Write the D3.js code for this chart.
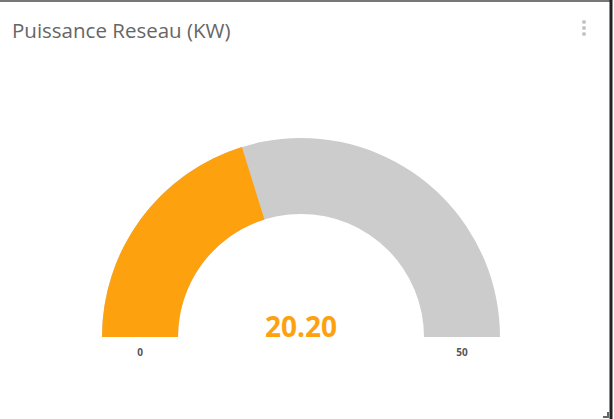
<!DOCTYPE html>
<html>
<head>
<meta charset="utf-8">
<script src="https://cdn.jsdelivr.net/npm/d3@7"></script>
<style>
  html, body { margin: 0; padding: 0; background: #fff; }
  svg { display: block; }
</style>
</head>
<body>
<div id="container"></div>
<script>
const width = 614, height = 419;

// data
const title = "Puissance Reseau (KW)";
const gaugeMin = 0, gaugeMax = 50;
const gaugeValue = 20.20;
const tickLabels = ["0", "50"];

const cx = 301, cy = 337;
const outerR = 199, innerR = 123;

const svg = d3.select("#container").append("svg")
    .attr("width", width)
    .attr("height", height)
    .attr("font-family", "'Open Sans', sans-serif");

// card border
svg.append("rect")
    .attr("x", 0).attr("y", 0)
    .attr("width", width).attr("height", height)
    .attr("fill", "#fff");
svg.append("line")
    .attr("x1", 0).attr("x2", width - 3)
    .attr("y1", 1).attr("y2", 1)
    .attr("stroke", "#777").attr("stroke-width", 2);
svg.append("line")
    .attr("x1", 611).attr("x2", 611)
    .attr("y1", 0).attr("y2", height)
    .attr("stroke", "#222").attr("stroke-width", 3);

// title
svg.append("text")
    .attr("x", 12).attr("y", 38)
    .attr("font-size", 20.5)
    .attr("fill", "#666")
    .text(title);

// menu dots
svg.selectAll("circle.dot")
    .data([0, 1, 2])
    .enter().append("circle")
    .attr("class", "dot")
    .attr("cx", 584)
    .attr("cy", d => 22 + d * 6)
    .attr("r", 2)
    .attr("fill", "#c4c4c4");

// resize handle
svg.append("path")
    .attr("d", "M603,417 L608,417 L608,412")
    .attr("fill", "none")
    .attr("stroke", "#666")
    .attr("stroke-width", 2);

// gauge
const angle = d3.scaleLinear()
    .domain([gaugeMin, gaugeMax])
    .range([-Math.PI / 2, Math.PI / 2]);

const arc = d3.arc()
    .innerRadius(innerR)
    .outerRadius(outerR);

const g = svg.append("g").attr("transform", `translate(${cx},${cy})`);

g.append("path")
    .attr("d", arc({startAngle: angle(gaugeMin), endAngle: angle(gaugeMax)}))
    .attr("fill", "#cccccc");

g.append("path")
    .attr("d", arc({startAngle: angle(gaugeMin), endAngle: angle(gaugeValue)}))
    .attr("fill", "#fea10e");

g.append("text")
    .attr("x", 0).attr("y", 0)
    .attr("text-anchor", "middle")
    .attr("font-size", 28)
    .attr("font-weight", "bold")
    .attr("fill", "#fea10e")
    .text(gaugeValue.toFixed(2));

g.selectAll("text.tick")
    .data([gaugeMin, gaugeMax])
    .enter().append("text")
    .attr("class", "tick")
    .attr("x", d => (d === gaugeMin ? -1 : 1) * (innerR + outerR) / 2)
    .attr("y", 19)
    .attr("text-anchor", "middle")
    .attr("font-size", 10)
    .attr("font-weight", "bold")
    .attr("fill", "#555")
    .text((d, i) => tickLabels[i]);
</script>
</body>
</html>
